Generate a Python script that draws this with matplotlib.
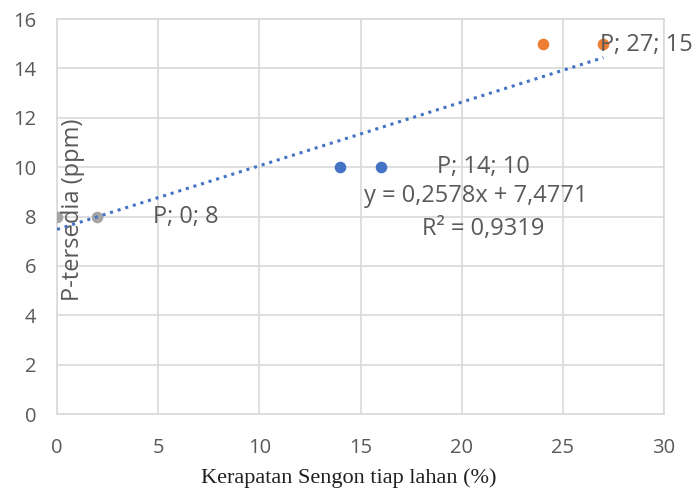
import numpy as np
import matplotlib.pyplot as plt

# kerapatan sengon (%) vs P tersedia (ppm), tiga kelompok lahan
x_gray = [0, 2]
y_gray = [8, 8]
x_blue = [14, 16]
y_blue = [10, 10]
x_orange = [24, 27]
y_orange = [15, 15]

slope = 0.2578
intercept = 7.4771
r2 = 0.9319

labels = ["P; 0; 8", "P; 14; 10", "P; 27; 15"]

fig = plt.figure(figsize=(6.97, 4.91), dpi=100)
ax = fig.add_axes([0.0818, 0.1568, 0.871, 0.8045])

grid_c = "#D9D9D9"
tick_c = "#595959"
sans = ["Open Sans", "DejaVu Sans"]

ax.scatter(x_gray, y_gray, s=70, color="#A5A5A5", zorder=3, linewidths=0)
ax.scatter(x_blue, y_blue, s=70, color="#4472C4", zorder=3, linewidths=0)
ax.scatter(x_orange, y_orange, s=70, color="#ED7D31", zorder=3, linewidths=0)

# garis tren linear
xt = np.array([0, 27])
ax.plot(xt, slope * xt + intercept, color="#4472C4", linestyle=(0, (1, 1.6)),
        linewidth=2.2, zorder=4)

ax.set_xlim(0, 30)
ax.set_ylim(0, 16)
ax.set_xticks(range(0, 31, 5))
ax.set_yticks(range(0, 17, 2))
ax.grid(True, color=grid_c, linewidth=1.2)
ax.set_axisbelow(True)
for s in ax.spines.values():
    s.set_color(grid_c)
    s.set_linewidth(1.2)
ax.tick_params(length=0, colors=tick_c, labelsize=14.5)
ax.tick_params(axis="x", pad=17)
ax.tick_params(axis="y", pad=15)
for t in ax.get_xticklabels() + ax.get_yticklabels():
    t.set_family(sans)

fs = 17
ax.text(4.75, 8, labels[0], fontsize=fs, color=tick_c, va="center", family=sans)
ax.text(18.8, 10, labels[1], fontsize=fs, color=tick_c, va="center", family=sans)
ax.text(26.85, 14.95, labels[2], fontsize=fs, color=tick_c, va="center", family=sans)
ax.text(20.7, 8.83, "y = 0,2578x + 7,4771", fontsize=fs, color=tick_c,
        ha="center", va="center", family=sans)
ax.text(21.05, 7.5, "R² = 0,9319", fontsize=fs, color=tick_c,
        ha="center", va="center", family=sans)

ax.text(0.8, 8.26, "P-tersedia (ppm)", rotation=90, fontsize=fs, color=tick_c,
        ha="center", va="center", family=sans)

fig.text(0.5, 0.027, "Kerapatan Sengon tiap lahan (%)", fontsize=16,
         color="#231F20", ha="center", va="center", family="Liberation Serif")

fig.savefig("out.png", dpi=100)
